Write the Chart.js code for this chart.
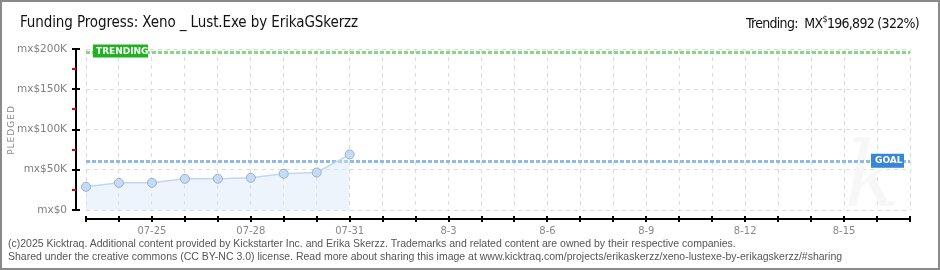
<!DOCTYPE html>
<html>
<head>
<meta charset="utf-8">
<script src="https://cdn.jsdelivr.net/npm/chart.js@4/dist/chart.umd.min.js"></script>
<style>
  body { margin: 0; background: #fff; }
  #wrap { position: relative; width: 940px; height: 270px; overflow: hidden; }
  #frame { position: absolute; left: 0; top: 0; width: 940px; height: 270px; box-sizing: border-box; border: 2px solid #8a8a8a; pointer-events: none; }
  .title { position: absolute; left: 20px; top: 13px; font: 15px "DejaVu Sans Condensed", "DejaVu Sans", sans-serif; color: #111; white-space: nowrap; letter-spacing: -0.1px; }
  .trend { position: absolute; right: 21px; top: 14px; font: 14px "DejaVu Sans Condensed", "DejaVu Sans", sans-serif; color: #111; white-space: nowrap; letter-spacing: -0.7px; }
  .trend sup { font-size: 9px; vertical-align: 6px; }
  .foot { position: absolute; left: 8px; font: 10.5px "Liberation Sans", sans-serif; color: #555; white-space: nowrap; }
</style>
</head>
<body>
<div id="wrap">
  <canvas id="chart" width="940" height="270"></canvas>
  <div class="title">Funding Progress: Xeno _ Lust.Exe by ErikaGSkerzz</div>
  <div class="trend">Trending:&nbsp; MX<sup>$</sup>196,892 (322%)</div>
  <div class="foot" style="top:237px">(c)2025 Kicktraq. Additional content provided by Kickstarter Inc. and Erika Skerzz. Trademarks and related content are owned by their respective companies.</div>
  <div class="foot" style="top:250px">Shared under the creative commons (CC BY-NC 3.0) license. Read more about sharing this image at www.kicktraq.com/projects/erikaskerzz/xeno-lustexe-by-erikagskerzz/#sharing</div>
  <div id="frame"></div>
</div>
<script>
// days on the x axis, 07-23 .. 08-17
const days = [
  "07-23", "07-24", "07-25", "07-26", "07-27", "07-28", "07-29", "07-30", "07-31",
  "8-1", "8-2", "8-3", "8-4", "8-5", "8-6", "8-7", "8-8", "8-9", "8-10",
  "8-11", "8-12", "8-13", "8-14", "8-15", "8-16", "8-17"
];
// pledged amount per day (MX$)
const pledged = [28800, 33700, 33800, 38700, 38800, 40000, 45000, 46600, 69000];
const goal = 61146;
const trending = 196892;
const yTicks = [0, 50000, 100000, 150000, 200000];

const refLines = {
  id: "refLines",
  beforeDatasetsDraw(chart) {
    const { ctx, chartArea: a, scales: { y } } = chart;
    ctx.save();
    // faint watermark
    ctx.fillStyle = "#f7f7f7";
    ctx.font = "italic 90px 'DejaVu Serif'";
    ctx.textAlign = "center";
    ctx.textBaseline = "alphabetic";
    ctx.fillText("k", 872, 206);
    ctx.lineWidth = 3;
    ctx.setLineDash([4, 2]);
    [[trending, "#86d886"], [goal, "#8fbbea"]].forEach(([v, c]) => {
      const py = Math.round(y.getPixelForValue(v)) + 0.5;
      ctx.strokeStyle = c;
      ctx.beginPath();
      ctx.moveTo(a.left, py);
      ctx.lineTo(a.right, py);
      ctx.stroke();
    });
    ctx.restore();
  },
  afterDraw(chart) {
    const { ctx, chartArea: a, scales: { x, y } } = chart;
    ctx.save();
    // y axis line + ticks
    ctx.fillStyle = "#000";
    ctx.fillRect(75, a.top - 1, 2, a.bottom - a.top + 2);
    for (let v = 0; v <= 200000; v += 25000) {
      const py = Math.round(y.getPixelForValue(v));
      const major = v % 50000 === 0;
      ctx.fillStyle = major ? "#000" : "#e00";
      ctx.fillRect(72, py - 1, major ? 8 : 4, 2);
    }
    // x axis line + ticks
    ctx.fillStyle = "#000";
    ctx.fillRect(a.left, 218, a.right - a.left + 1, 2);
    days.forEach((d, i) => {
      const px = Math.round(x.getPixelForValue(i));
      ctx.fillRect(px - 1, 216, 2, 6);
    });
    // labels on reference lines
    ctx.font = "bold 9px 'DejaVu Sans'";
    ctx.textBaseline = "middle";
    ctx.textAlign = "left";
    const ty = y.getPixelForValue(trending);
    ctx.fillStyle = "#1fb31f";
    ctx.fillRect(93, ty - 7, 55, 13);
    ctx.fillStyle = "#fff";
    ctx.fillText("TRENDING", 96, ty);
    const gy = y.getPixelForValue(goal);
    ctx.fillStyle = "#3a86d6";
    ctx.fillRect(871, gy - 7, 33, 14);
    ctx.fillStyle = "#fff";
    ctx.fillText("GOAL", 875, gy);
    // y axis title
    ctx.translate(12, 130);
    ctx.rotate(-Math.PI / 2);
    ctx.textAlign = "center";
    ctx.fillStyle = "#888";
    ctx.letterSpacing = "1px";
    ctx.font = "9px 'DejaVu Sans'";
    ctx.fillText("PLEDGED", 0, 0);
    ctx.restore();
  }
};

new Chart(document.getElementById("chart"), {
  type: "line",
  data: {
    labels: days,
    datasets: [{
      data: pledged,
      borderColor: "#bfd8f3",
      borderWidth: 1.5,
      backgroundColor: "rgba(214,230,249,0.45)",
      fill: "origin",
      tension: 0,
      pointRadius: 4.5,
      pointBackgroundColor: "#c5dcf7",
      pointBorderColor: "#9aaecb",
      pointBorderWidth: 1
    }]
  },
  options: {
    responsive: false,
    animation: false,
    layout: { padding: { left: 0, top: 49, right: 30, bottom: 0 } },
    plugins: { legend: { display: false }, tooltip: { enabled: false } },
    scales: {
      x: {
        offset: false,
        afterFit(s) { s.height = 60; },
        border: { display: false, dash: [4, 4] },
        grid: { color: "#dcdcdc", drawTicks: false },
        ticks: {
          autoSkip: false,
          maxRotation: 0,
          padding: 15,
          color: "#888",
          font: { family: "DejaVu Sans", size: 10 },
          callback: (v, i) => (i % 3 === 2 ? days[i] : "")
        }
      },
      y: {
        min: 0,
        max: 200000,
        afterFit(s) { s.width = 86; },
        afterBuildTicks(s) { s.ticks = yTicks.map(v => ({ value: v })); },
        border: { display: false, dash: [4, 4] },
        grid: { color: "#dcdcdc", drawTicks: false },
        ticks: {
          padding: 19,
          color: "#808080",
          font: { family: "DejaVu Sans", size: 10.5 },
          callback: v => (v === 0 ? "mx$0" : "mx$" + v / 1000 + "K")
        }
      }
    }
  },
  plugins: [refLines]
});
</script>
</body>
</html>
